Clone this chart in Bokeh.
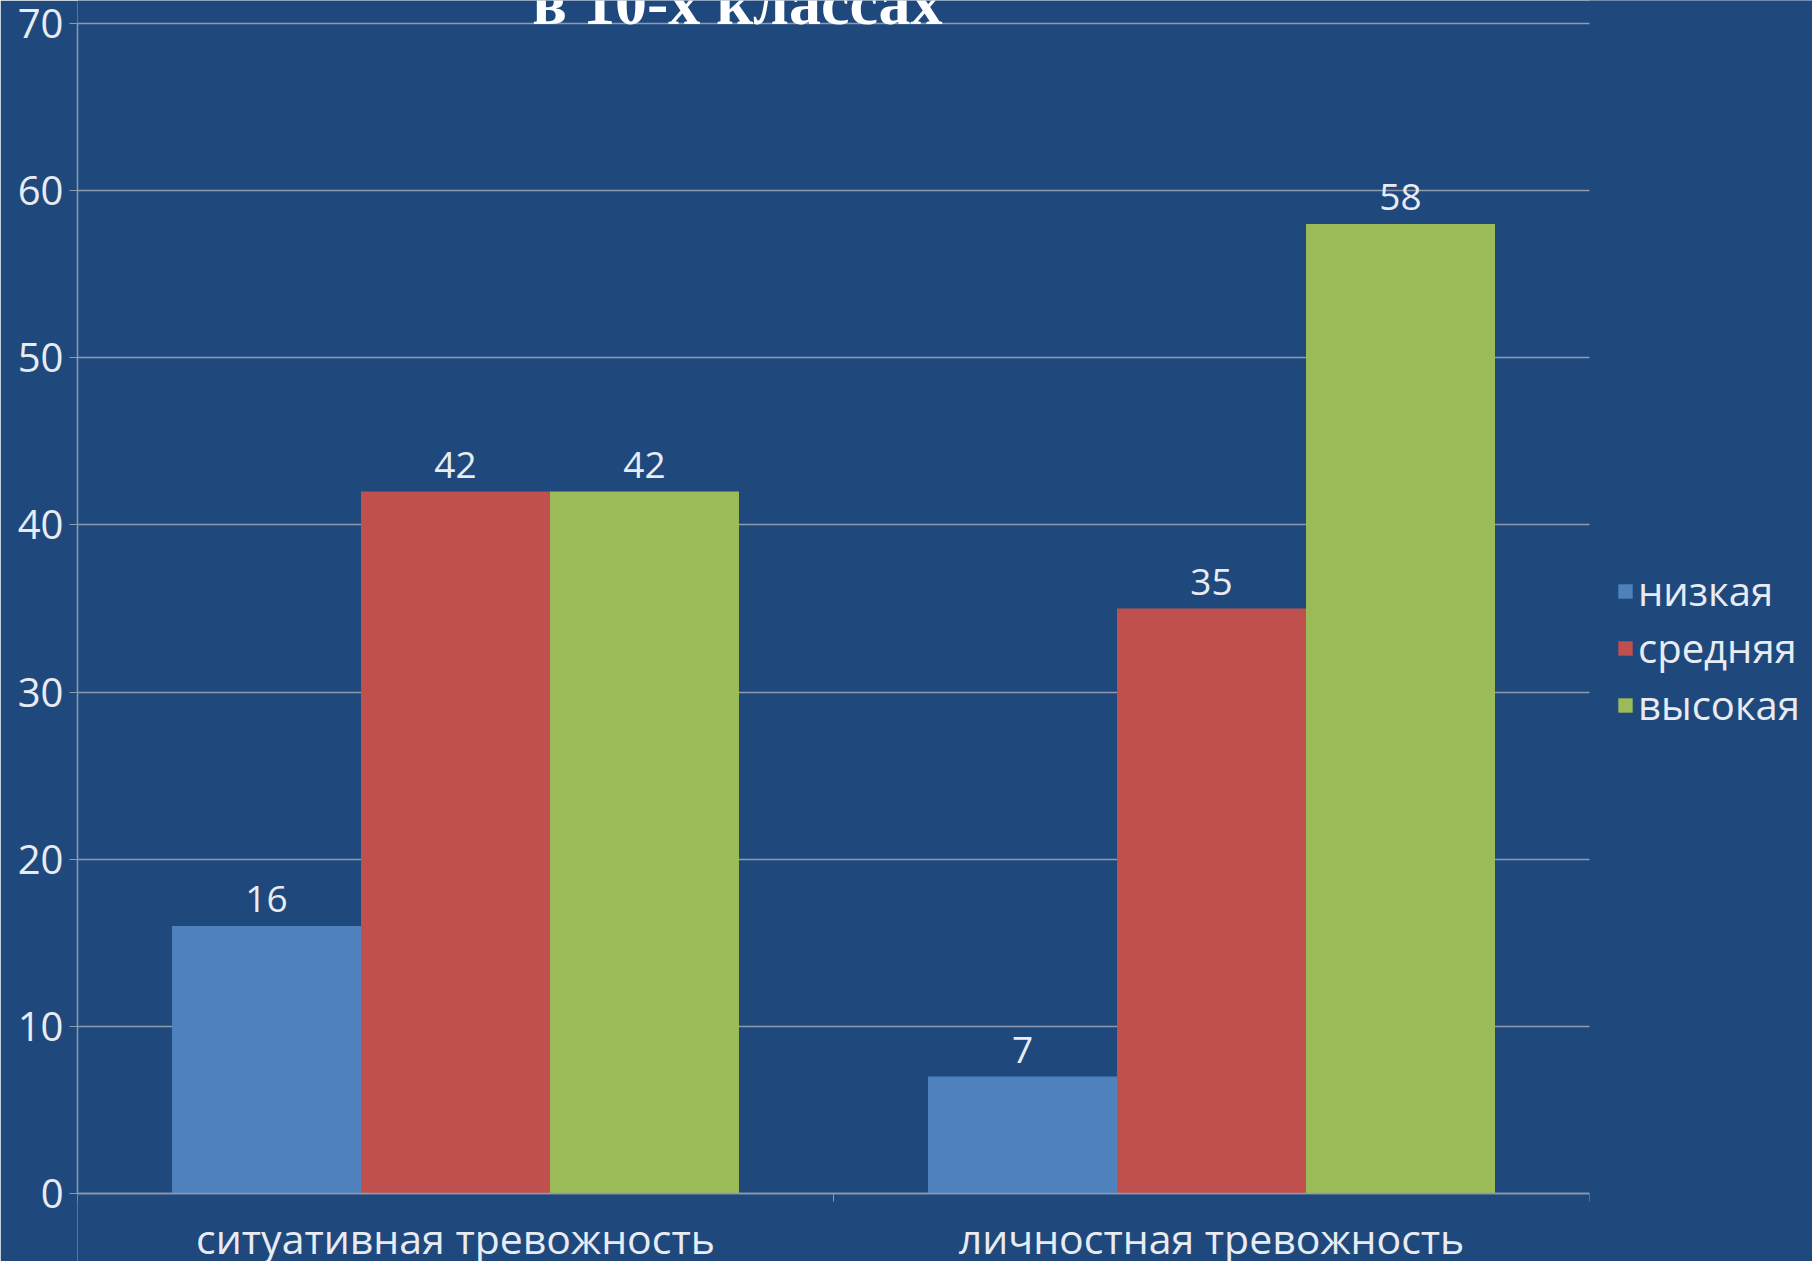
import numpy as np
from bokeh.plotting import figure
from bokeh.models import (ColumnDataSource, Range1d, FixedTicker, Legend, LegendItem, Label,
                          BoxAnnotation)
from bokeh.core.properties import value
from bokeh.embed import file_html
from bokeh.resources import INLINE

# ---- data ----
categories = ["ситуативная тревожность", "личностная тревожность"]
series_names = ["низкая", "средняя", "высокая"]
low = [16, 7]
mid = [42, 35]
high = [42, 58]
y_ticks = [0, 10, 20, 30, 40, 50, 60, 70]
title_text = "в 10-х классах"

series_values = [low, mid, high]
colors = ["#4F81BD", "#C0504D", "#9BBB59"]

BG = "#1F497D"
GRID = "#8E9AAE"
TXT = "#E8ECF2"
FONT = "Open Sans"

# layout (pixels): value axis 0..70 spans y 1193..23, categories span x 77..1589;
# the frame is widened to the whole canvas so texts outside the axes stay visible
W, H = 1812, 1261
LEFT, PLOT_RIGHT, TOP, AXIS_Y = 77, 1589, 23, 1193
n = len(categories)
y_max = y_ticks[-1]
px_per_unit = (AXIS_Y - TOP) / y_max
y_start = -(H - AXIS_Y) / px_per_unit
y_end = y_max + TOP / px_per_unit
x_end = n * (W - LEFT) / (PLOT_RIGHT - LEFT)

p = figure(width=W, height=H, output_backend="svg", toolbar_location=None,
           x_range=Range1d(0, x_end), y_range=Range1d(y_start, y_end),
           min_border_left=LEFT, min_border_right=0, min_border_top=0, min_border_bottom=0)
p.background_fill_color = BG
p.border_fill_color = BG
p.outline_line_color = None

centers = np.arange(n) + 0.5
bar_w = 0.25
offsets = [-0.25, 0.0, 0.25]

items = []
for name, vals, col, off in zip(series_names, series_values, colors, offsets):
    src = ColumnDataSource(dict(x=centers + off, top=vals, lbl=[str(v) for v in vals]))
    r = p.vbar(x="x", top="top", bottom=0, width=bar_w, source=src,
               fill_color=col, line_color=None)
    p.text(x="x", y="top", text="lbl", source=src, text_align="center",
           text_baseline="middle", y_offset=-27, text_color=TXT,
           text_font=value(FONT), text_font_size="37px")
    items.append(LegendItem(label=name, renderers=[r]))

# y axis
p.yaxis.ticker = FixedTicker(ticks=y_ticks)
p.yaxis.bounds = (0, y_max)
p.yaxis.axis_line_color = GRID
p.yaxis.axis_line_width = 1.5
p.yaxis.major_tick_line_color = GRID
p.yaxis.major_tick_out = 8
p.yaxis.major_tick_in = 0
p.yaxis.minor_tick_line_color = None
p.yaxis.major_label_standoff = 6
p.yaxis.major_label_text_font = FONT
p.yaxis.major_label_text_font_size = "40px"
p.yaxis.major_label_text_color = TXT

# x axis at value 0: names centred under each group, ticks at category boundaries
p.xaxis.ticker = FixedTicker(ticks=[float(c) for c in centers], minor_ticks=list(range(n + 1)))
p.xaxis.major_label_overrides = {float(c): cat for c, cat in zip(centers, categories)}
p.xaxis.fixed_location = 0
p.xaxis.bounds = (0, n)
p.xaxis.axis_line_color = GRID
p.xaxis.axis_line_width = 1.5
p.xaxis.major_tick_line_color = None
p.xaxis.major_tick_out = 0
p.xaxis.major_tick_in = 0
p.xaxis.minor_tick_line_color = GRID
p.xaxis.minor_tick_out = 8
p.xaxis.minor_tick_in = 0
p.xaxis.major_label_standoff = 8
p.xaxis.major_label_text_font = FONT
p.xaxis.major_label_text_font_size = "41px"
p.xaxis.major_label_text_color = TXT

p.xgrid.grid_line_color = None
p.ygrid.grid_line_color = GRID
p.ygrid.grid_line_width = 1.5

# blank strip right of the plot area (gridlines end at the last category)
p.add_layout(BoxAnnotation(left=n, fill_color=BG, fill_alpha=1.0, line_color=None))

legend = Legend(items=items, location=(1539, 529), orientation="vertical",
                background_fill_alpha=0, border_line_color=None,
                label_text_font=FONT, label_text_font_size="40px", label_text_color=TXT,
                glyph_width=18, glyph_height=18, label_standoff=4, spacing=2,
                padding=0, margin=0)
p.add_layout(legend, "center")

title = Label(x=0.873, y=y_max, text=title_text, text_align="center", text_baseline="alphabetic",
              y_offset=21, text_font="Liberation Serif", text_font_style="bold",
              text_font_size="64px", text_color="white")
p.add_layout(title)

open("out.html", "w").write(file_html(p, INLINE))
